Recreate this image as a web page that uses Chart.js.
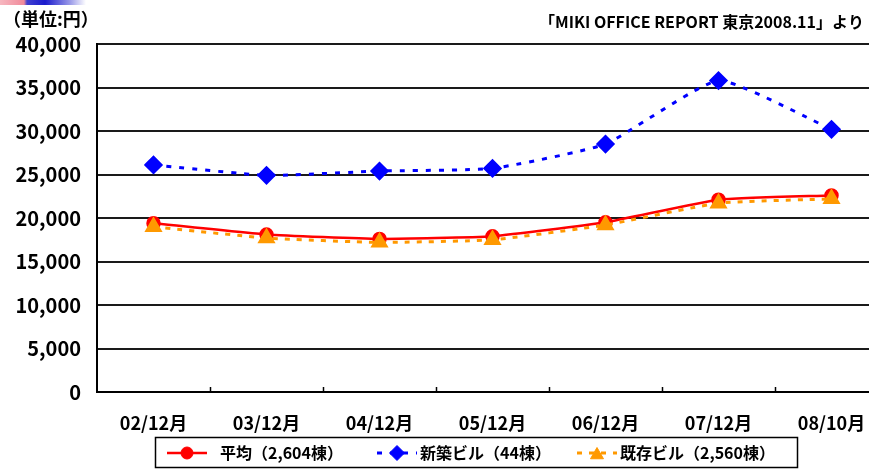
<!DOCTYPE html>
<html>
<head>
<meta charset="utf-8">
<script src="https://cdn.jsdelivr.net/npm/chart.js@4/dist/chart.umd.min.js"></script>
<style>
html,body{margin:0;padding:0;background:#fff;overflow:hidden;}
#wrap{position:relative;width:869px;height:469px;overflow:hidden;}
#strip{position:absolute;left:0;top:0;width:86px;height:5px;background:linear-gradient(to right,#f7b7c0 0,#f08a9a 24px,#4040d0 27px,#1a1acc 45px,#9a9ae8 70px,#fff 86px);}
canvas{position:absolute;left:0;top:0;}
</style>
</head>
<body>
<div id="wrap">
<canvas id="rentChart" width="900" height="469"></canvas>
<div id="strip"></div>
</div>
<script>
// Tokyo office rent (yen per tsubo)

const labels = ["02/12月","03/12月","04/12月","05/12月","06/12月","07/12月","08/10月"];

const avgRent = [19400,18100,17600,17900,19500,22100,22600];
const newRent = [26100,24900,25400,25700,28500,35800,30200];
const oldRent = [19000,17700,17200,17500,19200,21700,22200];

const seriesNames = ["平均（2,604棟）","新築ビル（44棟）","既存ビル（2,560棟）"];

const yMin = 0, yMax = 40000, yStep = 5000;

const unitText = "（単位:円）";
const sourceText = "「MIKI OFFICE REPORT 東京2008.11」より";

const FONT = "'Noto Sans CJK JP','Noto Sans',sans-serif";

// titles, x ticks pointing inward, boxed legend
const extras = {
  id: "extras",
  afterDraw(chart){
    const ctx = chart.ctx;
    const xs = chart.scales.x;
    const area = chart.chartArea;
    ctx.save();

    // small inward ticks at category boundaries
    const w = xs.getPixelForValue(1) - xs.getPixelForValue(0);
    ctx.strokeStyle = "#000";
    ctx.lineWidth = 1.5;
    for(let i = 1; i <= labels.length; i++){
      const x = Math.round(xs.getPixelForValue(i) - w/2) + 0.5;
      ctx.beginPath();
      ctx.moveTo(x, area.bottom);
      ctx.lineTo(x, area.bottom - 5);
      ctx.stroke();
    }

    ctx.fillStyle = "#000";
    ctx.textBaseline = "middle";
    ctx.font = "bold 18px " + FONT;
    ctx.textAlign = "left";
    ctx.fillText(unitText, 3, 19);
    ctx.font = "bold 16px " + FONT;
    ctx.textAlign = "right";
    ctx.fillText(sourceText, 864, 22);

    // legend
    const bx = 155, by = 437, bw = 642, bh = 30;
    ctx.lineWidth = 1.5;
    ctx.strokeStyle = "#000";
    ctx.strokeRect(bx + 0.5, by + 0.5, bw, bh);
    const cy = by + bh/2 + 1;
    const items = [
      {x: 167, tx: 220, ds: chart.data.datasets[0]},
      {x: 377, tx: 420, ds: chart.data.datasets[1]},
      {x: 577, tx: 620, ds: chart.data.datasets[2]}
    ];
    items.forEach((it, i) => {
      const ds = it.ds;
      ctx.save();
      ctx.strokeStyle = ds.borderColor;
      ctx.lineWidth = ds.borderWidth;
      ctx.setLineDash(ds.borderDash || []);
      ctx.beginPath();
      ctx.moveTo(it.x, cy);
      ctx.lineTo(it.x + 40, cy);
      ctx.stroke();
      ctx.restore();
      ctx.fillStyle = ds.pointBackgroundColor;
      ctx.strokeStyle = ds.pointBorderColor;
      ctx.lineWidth = 1;
      Chart.helpers.drawPoint(ctx, {pointStyle: ds.pointStyle, radius: ds.pointRadius, rotation: 0, borderWidth: 1}, it.x + 20, cy + (ds.pointStyle === "triangle" ? 2 : 0));
      ctx.fillStyle = "#000";
      ctx.font = "bold 16px " + FONT;
      ctx.textAlign = "left";
      ctx.fillText(seriesNames[i], it.tx, cy);
    });
    ctx.restore();
  }
};

new Chart(document.getElementById("rentChart"),{

type:"line",

data:{

labels:labels,

datasets:[{

label:seriesNames[0],

data:avgRent,

borderColor:"#ff0000",

borderWidth:2.5,

pointStyle:"circle",

pointRadius:6,

pointBackgroundColor:"#ff0000",

pointBorderColor:"#ff0000",

tension:.15,

order:2

},{

label:seriesNames[1],

data:newRent,

borderColor:"#0000ff",

borderWidth:3,

borderDash:[5,8],

pointStyle:"rectRot",

pointRadius:7.5,

pointBackgroundColor:"#0000ff",

pointBorderColor:"#0000ff",

tension:.15,

order:1

},{

label:seriesNames[2],

data:oldRent,

borderColor:"#ff9900",

borderWidth:3,

borderDash:[5,7],

pointStyle:"triangle",

pointRadius:7.5,

pointBackgroundColor:"#ff9900",

pointBorderColor:"#ff9900",

tension:.15,

order:0

}]

},

options:{

responsive:false,

animation:false,

layout:{padding:{top:44,right:12,left:0,bottom:0}},

plugins:{legend:{display:false},tooltip:{enabled:false}},

scales:{

x:{

offset:true,

grid:{display:false},

border:{display:true,color:"#000",width:2},

ticks:{color:"#000",padding:12,font:{family:FONT,size:18,weight:"bold"},maxRotation:0},

afterFit(s){ s.height = 77; }

},

y:{

min:yMin,

max:yMax,

grid:{color:"#1a1a1a",lineWidth:2,drawTicks:false},

border:{display:true,color:"#000",width:2},

ticks:{

stepSize:yStep,

color:"#000",

padding:16,

font:{family:FONT,size:20,weight:"bold"},

callback:v => v.toLocaleString("en-US")

},

afterFit(s){ s.width = 97; }

}

}

},

plugins:[extras]

});
</script>
</body>
</html>
